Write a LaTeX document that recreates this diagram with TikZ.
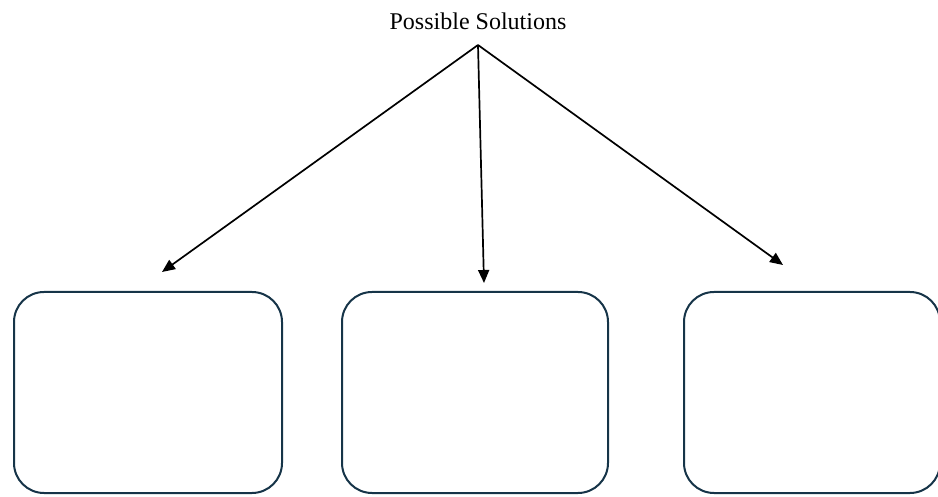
\documentclass[tikz,border=0pt]{standalone}
\usepackage{fontspec}
\setmainfont{Liberation Serif}
\usetikzlibrary{arrows.meta}
\definecolor{boxline}{RGB}{22,52,72}

\begin{document}
\begin{tikzpicture}[x=0.5pt, y=-0.5pt]
    \useasboundingbox (0,0) rectangle (938,497);

    \tikzset{TitleStyle/.style={font=\fontsize{12}{14}\selectfont, inner sep=0pt}}
    \node[TitleStyle] (title) at (478,21) {Possible Solutions};
    \coordinate (top) at (478,45);

    \tikzset{BoxStyle/.style={draw=boxline, line width=1pt, rounded corners=15pt,
        minimum height=100.5pt, inner sep=0pt}}
    \node[BoxStyle, minimum width=134pt] (left)   at (148,392.5) {};
    \node[BoxStyle, minimum width=133pt] (middle) at (475,392.5) {};
    \node[BoxStyle, minimum width=128pt] (right)  at (812,392.5) {};

    \coordinate (leftend)   at (162,272);
    \coordinate (middleend) at (484,283);
    \coordinate (rightend)  at (783,265);

    \tikzset{EdgeStyle/.style={-{Triangle[length=6.5pt,width=5.5pt]}, line width=0.85pt}}
    \draw[EdgeStyle] (top) -- (leftend);
    \draw[EdgeStyle] (top) -- (middleend);
    \draw[EdgeStyle] (top) -- (rightend);
\end{tikzpicture}
\end{document}
